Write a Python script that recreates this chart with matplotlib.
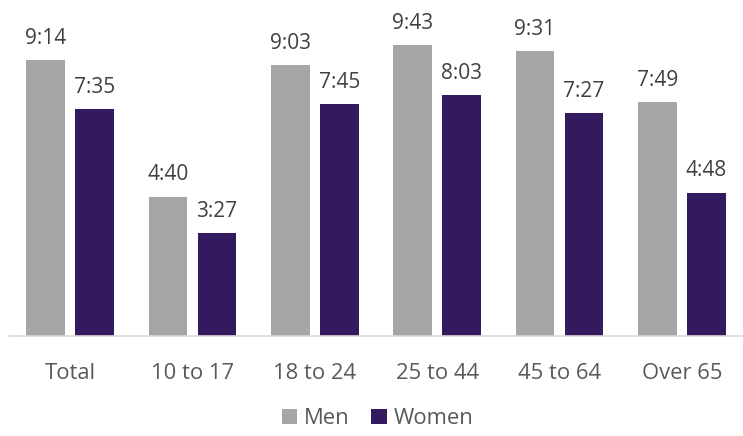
import matplotlib
matplotlib.use("Agg")
import matplotlib.pyplot as plt
import numpy as np

categories = ["Total", "10 to 17", "18 to 24", "25 to 44", "45 to 64", "Over 65"]
men_labels = ["9:14", "4:40", "9:03", "9:43", "9:31", "7:49"]
women_labels = ["7:35", "3:27", "7:45", "8:03", "7:27", "4:48"]


def to_minutes(s):
    h, m = s.split(":")
    return int(h) * 60 + int(m)


men = [to_minutes(s) for s in men_labels]
women = [to_minutes(s) for s in women_labels]

plt.rcParams["font.family"] = ["Open Sans", "DejaVu Sans"]
fig = plt.figure(figsize=(7.43, 4.36), dpi=100)
ax = fig.add_axes([0.012, 0.229, 0.988, 0.771])

x = np.arange(len(categories))
w = 0.317
off = 0.2
c_men = "#A6A6A6"
c_women = "#331A5E"
b1 = ax.bar(x - off, men, w, color=c_men, label="Men")
b2 = ax.bar(x + off, women, w, color=c_women, label="Women")

for bars, labels in ((b1, men_labels), (b2, women_labels)):
    for r, lab in zip(bars, labels):
        ax.annotate(lab, (r.get_x() + r.get_width() / 2, r.get_height()),
                    xytext=(0, 8), textcoords="offset points",
                    ha="center", va="bottom", fontsize=15, color="#404040")

ax.set_xlim(-0.5, len(categories) - 0.5)
ax.set_ylim(0, 674)
ax.set_xticks(x)
ax.set_xticklabels(categories, fontsize=15.8, color="#595959")
ax.tick_params(axis="x", length=0, pad=19)
ax.set_yticks([])
for s in ("top", "right", "left"):
    ax.spines[s].set_visible(False)
ax.spines["bottom"].set_color("#D9D9D9")
ax.spines["bottom"].set_linewidth(1.2)

leg = fig.legend(loc="lower center", bbox_to_anchor=(0.508, -0.03), ncol=2,
                 frameon=False, fontsize=15.8, handlelength=0.7, handleheight=0.7,
                 handletextpad=0.3, columnspacing=1.0, labelcolor="#595959")

fig.savefig("out.png", dpi=100)
